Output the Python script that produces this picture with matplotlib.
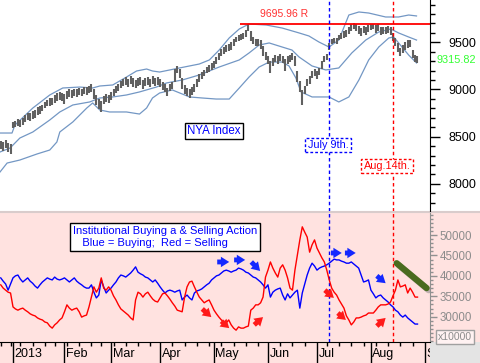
import matplotlib
matplotlib.use("Agg")
import matplotlib.pyplot as plt
import matplotlib.patheffects as pe
from matplotlib.patches import Rectangle
from matplotlib.lines import Line2D
from matplotlib.transforms import Bbox, TransformedBbox

plt.rcParams["font.family"] = ["Liberation Sans", "DejaVu Sans"]

W, H = 480, 363

# trading-day index, 0 = Jan 2 2013
days = list(range(-5, 166))

nya_hi = [8450, 8440, 8460, 8430, 8420,
          8660, 8670, 8690, 8680, 8700, 8730, 8750, 8750, 8770, 8780,
          8810, 8820, 8840, 8870, 8890, 8910, 8910, 8940, 8960, 8970,
          8960, 8950, 8980, 9000, 8990, 9010, 9000, 9020, 9010, 9030,
          9030, 9040, 9060, 9000, 8940, 8900, 8880, 8930, 8950, 8940,
          8970, 9010, 9040, 9060, 9090, 9110, 9130, 9110, 9140, 9120,
          9100, 9120, 9130, 9100, 9120, 9130, 9110, 9140, 9120, 9130,
          9110, 9080, 9060, 9020, 9060, 9080, 9220, 9250, 9220, 9120,
          9050, 9020, 9000, 9030, 9060, 9110, 9160, 9190, 9210, 9240,
          9260, 9280, 9300, 9340, 9390, 9430, 9450, 9470, 9480, 9500,
          9530, 9560, 9580, 9590, 9600, 9630, 9696, 9620, 9560, 9540,
          9540, 9520, 9460, 9400, 9360, 9300, 9330, 9370, 9350, 9380,
          9360, 9320, 9350, 9370, 9390, 9350, 9200, 9090, 8990, 9040,
          9110, 9140, 9200, 9220, 9200, 9230, 9300, 9360, 9380, 9490,
          9540, 9550, 9550, 9580, 9600, 9620, 9630, 9660, 9690, 9700,
          9690, 9670, 9650, 9670, 9660, 9680, 9695, 9695, 9680, 9690,
          9660, 9660, 9660, 9670, 9660, 9600, 9550, 9490, 9440, 9470,
          9500, 9520, 9520, 9420, 9370, 9360]
nya_lo = [8370, 8350, 8380, 8340, 8320,
          8590, 8600, 8610, 8600, 8620, 8660, 8680, 8670, 8690, 8700,
          8730, 8740, 8770, 8800, 8820, 8830, 8840, 8860, 8880, 8890,
          8880, 8850, 8900, 8920, 8910, 8930, 8920, 8940, 8930, 8950,
          8940, 8960, 8970, 8900, 8840, 8790, 8760, 8850, 8870, 8860,
          8890, 8930, 8960, 8980, 9020, 9040, 9050, 9030, 9060, 9030,
          9020, 9040, 9050, 9010, 9040, 9050, 9030, 9060, 9040, 9050,
          9030, 8990, 8970, 8930, 8980, 9000, 9080, 9180, 9120, 9000,
          8950, 8930, 8910, 8940, 8970, 9030, 9080, 9110, 9140, 9170,
          9190, 9210, 9230, 9270, 9310, 9360, 9380, 9400, 9410, 9420,
          9460, 9500, 9510, 9520, 9530, 9560, 9620, 9510, 9480, 9460,
          9460, 9430, 9360, 9310, 9270, 9180, 9250, 9290, 9270, 9300,
          9280, 9200, 9270, 9290, 9310, 9250, 9080, 8970, 8840, 8950,
          9040, 9060, 9120, 9140, 9110, 9150, 9220, 9290, 9310, 9420,
          9480, 9490, 9480, 9520, 9530, 9550, 9560, 9590, 9620, 9640,
          9620, 9590, 9570, 9600, 9580, 9610, 9630, 9640, 9600, 9620,
          9580, 9590, 9590, 9600, 9580, 9510, 9460, 9400, 9360, 9390,
          9420, 9440, 9450, 9330, 9290, 9280]
last_close = 9315.82
resistance = 9695.96

# bollinger bands
bb_up_x = [-5.3, -0.4, 0.8, 8.1, 15, 20.3, 27.2, 32.5, 35.4, 40.7, 46.3, 50.4, 54.5, 56.9,
           59.8, 67.9, 76, 80.1, 84.1, 88.2, 92.3, 96.3, 103.3, 109.8, 116.7, 120.7, 124.8,
           128.9, 132.9, 137, 141.1, 145.1, 152, 157.3, 161.4, 164.6]
bb_up = [8539, 8539, 8624, 8804, 8942, 9016, 9026, 9016, 9037, 9048, 9132, 9196, 9217, 9196,
         9185, 9228, 9270, 9313, 9418, 9546, 9641, 9694, 9683, 9651, 9599, 9567, 9503,
         9450, 9524, 9789, 9821, 9810, 9768, 9768, 9789, 9779]
bb_mid_x = [-5.3, -1.2, 2.8, 8.1, 15, 19.1, 24.4, 31.3, 35.4, 40.7, 46.3, 51.6, 58.5, 62.6,
            69.1, 76, 84.1, 92.3, 96.3, 100.4, 104.5, 109.8, 113.8, 116.7, 122, 127.6,
            132.9, 138.2, 143.9, 149.2, 154.1, 157.3, 161.4, 164.6]
bb_mid = [8338, 8380, 8486, 8550, 8677, 8762, 8836, 8868, 8910, 8921, 8942, 8974, 9026, 9069,
          9101, 9154, 9238, 9313, 9387, 9471, 9493, 9450, 9418, 9344, 9249, 9207,
          9228, 9387, 9524, 9609, 9641, 9599, 9556, 9524]
bb_lo_x = [-5.3, -2.4, 2.8, 9.8, 15, 17.9, 19.1, 24.4, 30.1, 32.5, 35.4, 39.4, 46.3, 51.6,
           54.5, 56.9, 59.8, 65, 72, 77.2, 82.9, 88.2, 92.3, 96.3, 100.4, 104.5, 109.8,
           112.6, 115.4, 117.5, 122, 128.9, 132.9, 137, 141.1, 145.1, 149.2, 153.3, 155.3,
           157.3, 161.4, 164.6]
bb_lo = [8126, 8221, 8253, 8317, 8359, 8444, 8550, 8656, 8804, 8857, 8783, 8762, 8762, 8740,
         8804, 8910, 8963, 8995, 8921, 8910, 8899, 8899, 9016, 9132, 9238, 9291, 9291,
         9249, 9122, 8974, 8921, 8921, 8868, 8921, 9101, 9313, 9450, 9546, 9556,
         9493, 9365, 9281]

buying = [39500, 38700, 38000, 36500, 38000,
          39500, 40000, 40200, 39200, 38500, 39000, 39500, 38700, 38200, 37500,
          37000, 37800, 38500, 39000, 39500, 39200, 39000, 39700, 39200, 39000,
          39200, 39500, 39000, 38500, 39000, 39500, 38700, 38200, 37800, 37300,
          37000, 37000, 37800, 36000, 34600, 35300, 39000, 37300, 35800, 36500,
          37000, 37800, 38500, 39500, 40200, 40000, 39700, 40200, 40700, 41400,
          42200, 40900, 40500, 40200, 39700, 39500, 39000, 38500, 39000, 38200,
          37300, 36500, 35800, 36300, 36500, 36300, 36000, 36300, 36500, 34100,
          34800, 35300, 34600, 34100, 35800, 36300, 36500, 36800, 37300, 37800,
          38200, 39000, 39500, 40000, 40200, 40700, 41200, 41400, 41200, 40900,
          41200, 41400, 41900, 41700, 41400, 40900, 40700, 40200, 39700, 39500,
          39000, 38500, 37800, 37000, 37800, 34800, 36000, 36500, 36800, 37000,
          35300, 34100, 35600, 34600, 35300, 36000, 36500, 32100, 35800, 38000,
          40200, 41900, 43100, 42400, 41400, 41900, 42200, 42400, 42700, 43100,
          43600, 44100, 43900, 43900, 43600, 43400, 43100, 43100, 43400, 42900,
          42400, 41900, 40200, 38500, 38700, 39000, 36500, 35600, 34600, 35100,
          35300, 34600, 34100, 33600, 32900, 32400, 31600, 31200, 30400, 29900,
          30400, 29700, 29200, 28700, 28200, 28200]
selling = [37800, 37000, 36500, 36000, 35800,
           32400, 31900, 31600, 31900, 32100, 31600, 31200, 30700, 30400, 30200,
           29700, 29400, 29200, 28700, 28500, 27700, 27200, 28000, 28500, 29200,
           29700, 31200, 32900, 32100, 31600, 31900, 32100, 31200, 29900, 30200,
           30400, 32400, 34800, 37300, 36000, 37000, 39500, 37000, 36500, 37300,
           36500, 35100, 34100, 32900, 31900, 31400, 30900, 30400, 29700, 29200,
           34100, 36000, 35600, 34800, 35600, 36000, 35100, 34300, 33800, 33600,
           34600, 35600, 35800, 35100, 34300, 33400, 32600, 31600, 31400, 31200,
           34800, 37300, 38500, 38700, 37300, 36000, 34800, 34100, 33400, 33800,
           34100, 32900, 31600, 30700, 29900, 29200, 28700, 28500, 29200, 28000,
           27200, 26700, 27500, 27200, 27200, 27500, 27700, 31600, 32100, 32900,
           32900, 33400, 34800, 39700, 41400, 43400, 41900, 40700, 39700, 41900,
           42700, 41400, 39500, 37000, 36500, 41400, 45100, 48800, 52000, 50700,
           49500, 45800, 47600, 48800, 46800, 45600, 44400, 43400, 41400, 39000,
           37000, 36000, 35300, 34100, 33100, 32100, 30200, 29200, 28000, 28700,
           29700, 29700, 29900, 30200, 30400, 30900, 30900, 30900, 31600, 32400,
           32900, 32900, 32900, 33100, 33600, 35100, 36500, 39000, 37300, 37500,
           37800, 35800, 37000, 36000, 34800, 34800]

month_days = [0, 21, 40, 60, 82, 104, 124, 146, 168]
month_labels = ["2013", "Feb", "Mar", "Apr", "May", "Jun", "Jul", "Aug", "Sep"]
week_days = [-5, -1, 3, 8, 13, 17, 22, 27, 32, 36, 41, 46, 51, 56, 65, 70, 75, 80, 85,
             90, 95, 100, 109, 114, 119, 128, 133, 138, 143, 148, 153, 158, 163]
jul9, aug14 = 129, 155

# annotation arrows on the lower panel: (x0, y0, x1, y1, colour)
arrows = [(83.3, 43400, 88.2, 43400, "#1428ff"), (90.2, 43900, 94.7, 43900, "#1428ff"),
          (97.2, 43400, 100.8, 41200, "#1428ff"), (129.7, 45600, 134.1, 45600, "#1428ff"),
          (135.4, 45600, 139.8, 45600, "#1428ff"), (148.4, 40000, 152.0, 38200, "#1428ff"),
          (77.2, 31900, 80.9, 29900, "#ff1a1a"), (85.0, 28900, 88.2, 27200, "#ff1a1a"),
          (98.4, 28000, 102.0, 29900, "#ff1a1a"), (127.2, 36500, 130.9, 34600, "#ff1a1a"),
          (132.5, 30900, 135.8, 29200, "#ff1a1a"), (148.4, 27700, 152.0, 29700, "#ff1a1a")]

pink = "#ffe2e0"
xlim = (-5.3, 170.1)


def fx(x):
    return x / W


def fy(y):
    return 1 - y / H


fig = plt.figure(figsize=(W / 100, H / 100), dpi=100)
fig.patch.set_facecolor("white")
fig.patches.append(Rectangle((0, 0), 1, fy(211), transform=fig.transFigure,
                             fc=pink, ec="none", zorder=-10))
fig.patches.append(Rectangle((fx(430), 0), fx(50), 21 / H, transform=fig.transFigure,
                             fc="#e4e4e4", ec="none", zorder=-10))
fig.add_artist(Line2D([0, 1], [fy(212), fy(212)], color="#d9cccc", lw=1.5, zorder=-5))

# ---- top panel: NYA index
ax1 = fig.add_axes([0, fy(211), fx(430), 211 / H])
ax1.set_facecolor("none")
for s in ["top", "left", "bottom"]:
    ax1.spines[s].set_visible(False)
ax1.spines["right"].set_color("black")
ax1.set_xlim(xlim)
ax1.set_ylim(7713, 9948)
ax1.set_xticks([])
ax1.yaxis.tick_right()
ax1.set_yticks([8000, 8500, 9000, 9500])
ax1.set_yticks(range(7800, 10000, 100), minor=True)
ax1.tick_params(axis="y", which="major", length=7, width=1, pad=6, labelsize=9)
ax1.tick_params(axis="y", which="minor", length=3.5, width=1)

ax1.plot(bb_up_x, bb_up, color="#7397c4", lw=0.9)
ax1.plot(bb_mid_x, bb_mid, color="#7397c4", lw=0.9)
ax1.plot(bb_lo_x, bb_lo, color="#7397c4", lw=0.9)
ax1.vlines(days, nya_lo, nya_hi, color="#606060", lw=1.5)

ax1.hlines(resistance, 92.5, xlim[1], color="red", lw=1.3)
ax1.text(110.5, 9800, "9695.96 R", color="#ff3030", fontsize=7.5, ha="center", va="center")
ax1.axvline(jul9, color="blue", ls=(0, (2.5, 2)), lw=1)
ax1.axvline(aug14, color="red", ls=(0, (2.5, 2)), lw=1)
ax1.text(1.014, last_close, "%.2f" % last_close, color="#33ff33", fontsize=7.8,
         ha="left", va="center", transform=ax1.get_yaxis_transform(), clip_on=False)

fig.text(fx(214), fy(131), "NYA Index", color="blue", fontsize=8.3, ha="center", va="center",
         bbox=dict(boxstyle="square,pad=0.2", fc="white", ec="black", lw=1))
fig.text(fx(328), fy(145), "July 9th.", color="blue", fontsize=7.8, ha="center", va="center",
         bbox=dict(boxstyle="square,pad=0.2", fc="white", ec="blue", lw=1, ls=(0, (2, 1.5))))
fig.text(fx(387), fy(166), "Aug.14th.", color="red", fontsize=7.8, ha="center", va="center",
         bbox=dict(boxstyle="square,pad=0.2", fc="white", ec="red", lw=1, ls=(0, (2, 1.5))))

# ---- lower panel: institutional buying / selling
ax2 = fig.add_axes([0, fy(342), fx(430), 129 / H])
ax2.set_facecolor("none")
ax2.spines["top"].set_visible(False)
ax2.spines["left"].set_visible(False)
ax2.spines["right"].set_color("#909090")
ax2.spines["bottom"].set_color("black")
ax2.set_xlim(xlim)
ax2.set_ylim(23806, 55386)
ax2.yaxis.tick_right()
ax2.set_yticks(range(30000, 50001, 5000))
ax2.set_yticks(range(24000, 55001, 1000), minor=True)
ax2.tick_params(axis="y", which="major", length=5, width=1, pad=2, labelsize=8.3,
                colors="#909090", labelcolor="#8c8c8c")
ax2.tick_params(axis="y", which="minor", length=2.5, width=1, colors="#909090")
ax2.set_xticks(month_days)
ax2.set_xticks(week_days, minor=True)
ax2.set_xticklabels([])
ax2.tick_params(axis="x", which="major", length=15, width=1, color="black")
ax2.tick_params(axis="x", which="minor", length=3, width=1, color="black")

clip = TransformedBbox(Bbox([[0, 0], [fx(430), 1]]), fig.transFigure)
for d, lab in zip(month_days, month_labels):
    t = ax2.text(d + 0.6, -0.093, lab, transform=ax2.get_xaxis_transform(), fontsize=9,
                 ha="left", va="center")
    t.set_clip_on(True)
    t.set_clip_box(clip)

ax2.axvline(jul9, color="blue", ls=(0, (2.5, 2)), lw=1)
ax2.axvline(aug14, color="red", ls=(0, (2.5, 2)), lw=1)
ax2.plot(days, buying, color="blue", lw=1)
ax2.plot(days, selling, color="red", lw=1)

for x0, y0, x1, y1, c in arrows:
    ax2.annotate("", xy=(x1, y1), xytext=(x0, y0),
                 arrowprops=dict(arrowstyle="simple,head_length=0.6,head_width=0.75,tail_width=0.35",
                                 color=c, lw=0, shrinkA=0, shrinkB=0, mutation_scale=10))

ax2.plot([156.5, 168.7], [43100, 37000], color="#4a6b1f", lw=4.5, solid_capstyle="round",
         path_effects=[pe.SimpleLineShadow(offset=(1.5, -1.5), shadow_color="gray", alpha=0.5),
                       pe.Normal()])

fig.text(fx(73), fy(237), "Institutional Buying a & Selling Action\n   Blue = Buying;  Red = Selling",
         color="blue", fontsize=8, ha="left", va="center", linespacing=1.2,
         bbox=dict(boxstyle="square,pad=0.25", fc="white", ec="black", lw=1))
fig.text(fx(455), fy(337), "x10000", color="#8c8c8c", fontsize=7.5, ha="center", va="center",
         bbox=dict(boxstyle="square,pad=0.15", fc="#fff2f2", ec="#a0a0a0", lw=1))

fig.savefig("out.png", dpi=100)
